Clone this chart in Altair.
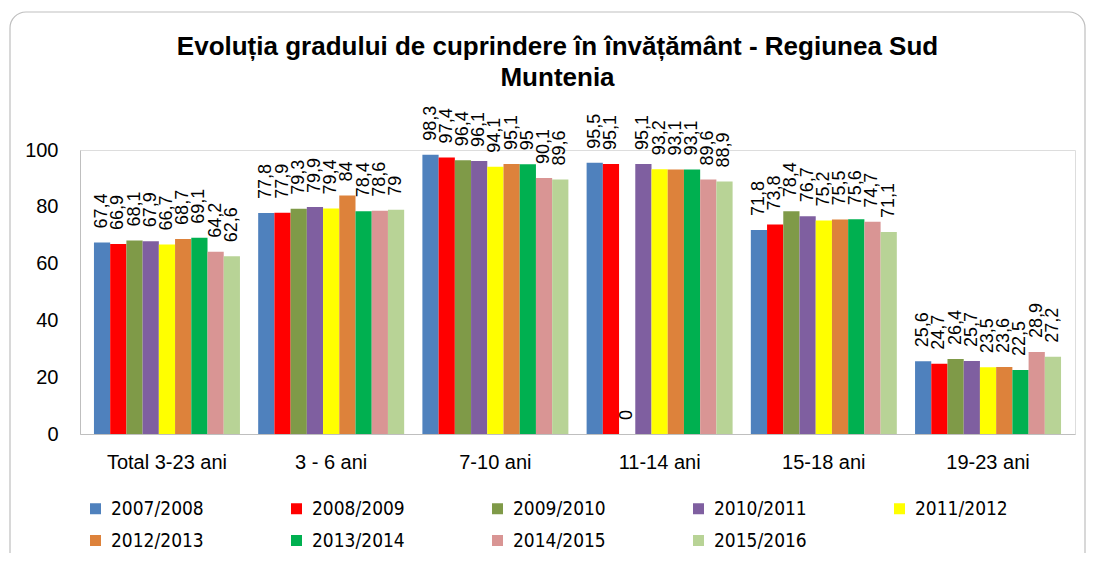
import altair as alt
import pandas as pd

categories = ["Total 3-23 ani", "3 - 6 ani", "7-10 ani", "11-14 ani", "15-18 ani", "19-23 ani"]
years = ["2007/2008", "2008/2009", "2009/2010", "2010/2011", "2011/2012",
         "2012/2013", "2013/2014", "2014/2015", "2015/2016"]
colors = ["#4F81BD", "#FF0000", "#7F9A48", "#7F5FA0", "#FFFF00",
          "#DD823B", "#00B050", "#D99594", "#B8D396"]

y_2007_2008 = [67.4, 77.8, 98.3, 95.5, 71.8, 25.6]
y_2008_2009 = [66.9, 77.9, 97.4, 95.1, 73.8, 24.7]
y_2009_2010 = [68.1, 79.3, 96.4, 0, 78.4, 26.4]
y_2010_2011 = [67.9, 79.9, 96.1, 95.1, 76.7, 25.7]
y_2011_2012 = [66.7, 79.4, 94.1, 93.2, 75.2, 23.5]
y_2012_2013 = [68.7, 84, 95.1, 93.1, 75.5, 23.6]
y_2013_2014 = [69.1, 78.4, 95, 93.1, 75.6, 22.5]
y_2014_2015 = [64.2, 78.6, 90.1, 89.6, 74.7, 28.9]
y_2015_2016 = [62.6, 79, 89.6, 88.9, 71.1, 27.2]

series = [y_2007_2008, y_2008_2009, y_2009_2010, y_2010_2011, y_2011_2012,
          y_2012_2013, y_2013_2014, y_2014_2015, y_2015_2016]

rows = []
for yr, vals in zip(years, series):
    for cat, v in zip(categories, vals):
        lab = (str(int(v)) if float(v).is_integer() else str(v)).replace(".", ",")
        rows.append({"cat": cat, "year": yr, "val": v, "label": lab})
df = pd.DataFrame(rows)

W, H = 995, 284

x = alt.X("cat:N", sort=categories, title=None,
          scale=alt.Scale(paddingInner=0.111, paddingOuter=0.085),
          axis=alt.Axis(labelAngle=0, labelFontSize=20, labelFont="Liberation Sans",
                        labelColor="#000000", labelPadding=18, ticks=False,
                        domainColor="#BFBFBF", domainWidth=1))
y = alt.Y("val:Q", title=None,
          scale=alt.Scale(domain=[0, 100]),
          axis=alt.Axis(values=[0, 20, 40, 60, 80, 100], grid=False, domain=True,
                        domainColor="#BFBFBF", domainWidth=1,
                        ticks=False, labelFontSize=20, labelFont="Liberation Sans",
                        labelColor="#000000", labelPadding=22))
xo = alt.XOffset("year:N", sort=years)
color = alt.Color("year:N", sort=years, title=None,
                  scale=alt.Scale(domain=years, range=colors),
                  legend=alt.Legend(orient="none", legendX=6, legendY=349, columns=5,
                                    direction="horizontal",
                                    symbolType="square", symbolSize=121,
                                    symbolStrokeWidth=0, labelFontSize=19,
                                    labelFont="DejaVu Sans Condensed",
                                    labelColor="#000000", columnPadding=83,
                                    rowPadding=12, labelOffset=6))

bars = alt.Chart(df).mark_bar().encode(x=x, y=y, xOffset=xo, color=color)
labels = alt.Chart(df).mark_text(angle=270, align="left", baseline="middle",
                                 dx=14, fontSize=18, font="Liberation Sans",
                                 color="#000000").encode(
    x=alt.X("cat:N", sort=categories), y="val:Q", xOffset=xo, text="label:N")

frame = alt.Chart(alt.Data(values=[{}])).mark_rect(
    fill="transparent", stroke="#BFBFBF", strokeWidth=1.2, cornerRadius=16, clip=False
).encode(x=alt.value(-70), x2=alt.value(W + 10), y=alt.value(-138), y2=alt.value(H + 150))

chart = alt.layer(frame, bars, labels).properties(
    width=W, height=H,
    autosize=alt.AutoSizeParams(type="none"),
    padding={"left": 72, "top": 142, "right": 12, "bottom": 119},
    title=alt.TitleParams(
        ["Evoluția gradului de cuprindere în învățământ - Regiunea Sud", "Muntenia"],
        fontSize=26, font="Liberation Sans", fontWeight="bold", color="#000000",
        anchor="middle", frame="group", dx=-20, offset=-80, lineHeight=31),
).configure_view(stroke=None).configure(background="#FFFFFF")

chart.save("out.html", embed_options={"renderer": "svg", "actions": False})
